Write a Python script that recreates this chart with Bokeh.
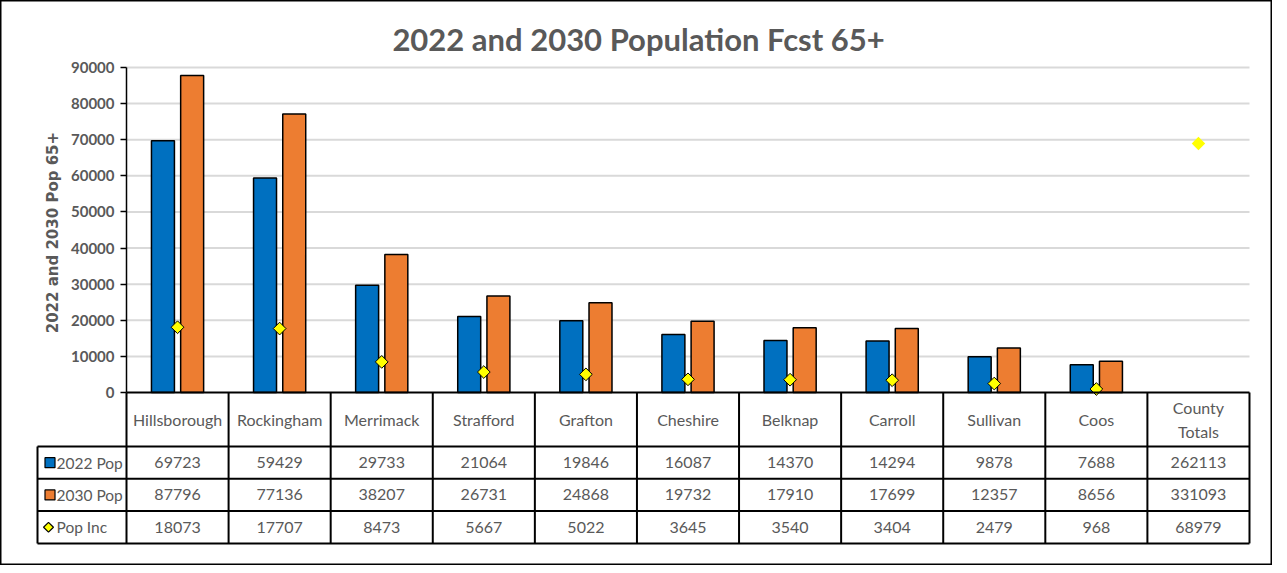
import numpy as np
from bokeh.plotting import figure
from bokeh.models import LinearAxis, FixedTicker, Range1d
from bokeh.core.properties import value
from bokeh.embed import file_html
from bokeh.resources import INLINE

# ---------------- data ----------------
CATEGORIES = ["Hillsborough", "Rockingham", "Merrimack", "Strafford", "Grafton",
              "Cheshire", "Belknap", "Carroll", "Sullivan", "Coos", "County\nTotals"]
POP_2022 = [69723, 59429, 29733, 21064, 19846, 16087, 14370, 14294, 9878, 7688, 262113]
POP_2030 = [87796, 77136, 38207, 26731, 24868, 19732, 17910, 17699, 12357, 8656, 331093]
POP_INC = [18073, 17707, 8473, 5667, 5022, 3645, 3540, 3404, 2479, 968, 68979]
SERIES = ["2022 Pop", "2030 Pop", "Pop Inc"]
Y_TICKS = [0, 10000, 20000, 30000, 40000, 50000, 60000, 70000, 80000, 90000]

TITLE = "2022 and 2030 Population Fcst 65+"
Y_LABEL = "2022 and 2030 Pop  65+"

BLUE = "#0070C0"
ORANGE = "#ED7D31"
YELLOW = "#FFFF00"
GRAY_TXT = "#595959"
GRID = "#D9D9D9"

# ---------------- layout (pixels -> data) ----------------
W, H = 1272, 565
AX_X_PX = 126          # frame px of category start (y axis)
CAT_PX = 102.09        # px per category
ZERO_PX = 392          # frame px of y = 0
TOP_PX = 67            # frame px of y = 90000
UPP = 90000 / (ZERO_PX - TOP_PX)   # data units per px

n = len(CATEGORIES)
x_start = -AX_X_PX / CAT_PX
x_end = (W - AX_X_PX) / CAT_PX
y_end = 90000 + TOP_PX * UPP
y_start = -(H - ZERO_PX) * UPP

def px_x(px):
    return (px - AX_X_PX) / CAT_PX

def px_dy(px):
    return px * UPP

p = figure(width=W, height=H, output_backend="svg", toolbar_location=None,
           x_axis_type=None, y_axis_type=None,
           x_range=Range1d(x_start, x_end), y_range=Range1d(y_start, y_end),
           min_border=0, min_border_left=0, min_border_right=0,
           min_border_top=0, min_border_bottom=0)
p.outline_line_color = "black"
p.outline_line_width = 2
p.background_fill_color = "white"
p.border_fill_color = "white"

centers = np.arange(n) + 0.5

# grid lines
grid_y = Y_TICKS[1:]
p.segment(x0=[0] * len(grid_y), x1=[n] * len(grid_y), y0=grid_y, y1=grid_y,
          line_color=GRID, line_width=2)

# bars (county totals exceed the scale and are not drawn)
m = n - 1
BW = 0.225
OFF = 0.143
p.vbar(x=centers[:m] - OFF, width=BW, top=POP_2022[:m], bottom=0,
       fill_color=BLUE, line_color="black", line_width=1.5)
p.vbar(x=centers[:m] + OFF, width=BW, top=POP_2030[:m], bottom=0,
       fill_color=ORANGE, line_color="black", line_width=1.5)
p.scatter(x=centers[:m], y=POP_INC[:m], marker="square", angle=np.pi / 4, size=9,
          fill_color=YELLOW, line_color="black", line_width=1)
p.scatter(x=centers[m:], y=POP_INC[m:], marker="square", angle=np.pi / 4, size=9.5,
          fill_color=YELLOW, line_color=None)

# y axis
ax = LinearAxis(fixed_location=0, bounds=(0, 90000), ticker=FixedTicker(ticks=Y_TICKS))
ax.axis_line_color = "black"
ax.axis_line_width = 1.5
ax.major_tick_line_color = "black"
ax.major_tick_line_width = 1.5
ax.major_tick_out = 6
ax.major_tick_in = 0
ax.minor_tick_line_color = None
ax.major_label_standoff = 6
ax.major_label_text_font = "Lato"
ax.major_label_text_font_style = "bold"
ax.major_label_text_font_size = "15px"
ax.major_label_text_color = GRAY_TXT
p.add_layout(ax, "left")

# y label
p.text(x=[px_x(52)], y=[45000], text=[Y_LABEL], angle=np.pi / 2,
       text_font=value("DejaVu Sans"), text_font_style="bold", text_font_size="15px",
       text_color=GRAY_TXT, text_align="center", text_baseline="middle")

# title
p.text(x=[(x_start + x_end) / 2 + 0.02], y=[px_dy(ZERO_PX - 38)], text=[TITLE],
       text_font=value("Lato"), text_font_style="bold", text_font_size="31px",
       text_color=GRAY_TXT, text_align="center", text_baseline="middle")

# ---------------- data table ----------------
HEADER_H = px_dy(54)
ROW_H = px_dy(32.3)
hdr_bot = -HEADER_H
row_bots = [hdr_bot - ROW_H * (k + 1) for k in range(3)]
tbl_bot = row_bots[-1]
leg_left = px_x(37)

# horizontal lines
p.segment(x0=[0], x1=[n], y0=[0], y1=[0], line_color="black", line_width=2)
hl = [hdr_bot] + row_bots
p.segment(x0=[leg_left] * len(hl), x1=[n] * len(hl), y0=hl, y1=hl,
          line_color="black", line_width=2)
# vertical lines
vx = list(range(n + 1))
p.segment(x0=vx, x1=vx, y0=[0] * len(vx), y1=[tbl_bot] * len(vx),
          line_color="black", line_width=2)
p.segment(x0=[leg_left], x1=[leg_left], y0=[hdr_bot], y1=[tbl_bot],
          line_color="black", line_width=2)

TFONT = value("Lato")
TSIZE = "16px"
p.text(x=centers, y=[hdr_bot / 2] * n, text=CATEGORIES,
       text_font=TFONT, text_font_size=TSIZE, text_color=GRAY_TXT,
       text_align="center", text_baseline="middle", text_line_height=1.25)

row_mids = [hdr_bot - ROW_H * (k + 0.5) for k in range(3)]
for vals, ym in zip([POP_2022, POP_2030, POP_INC], row_mids):
    p.text(x=centers, y=[ym] * n, text=[str(v) for v in vals],
           text_font=TFONT, text_font_size=TSIZE, text_color=GRAY_TXT,
           text_align="center", text_baseline="middle")

# legend keys in the table
p.scatter(x=[px_x(49.5)] * 2, y=row_mids[:2], marker="square", size=10,
          fill_color=[BLUE, ORANGE], line_color="black", line_width=1.2)
p.scatter(x=[px_x(48)], y=row_mids[2:], marker="square", angle=np.pi / 4, size=7,
          fill_color=YELLOW, line_color="black", line_width=1.2)
p.text(x=[px_x(56)] * 3, y=row_mids, text=SERIES,
       text_font=TFONT, text_font_size="15.5px", text_color=GRAY_TXT,
       text_align="left", text_baseline="middle")

open("out.html", "w").write(file_html(p, INLINE))
